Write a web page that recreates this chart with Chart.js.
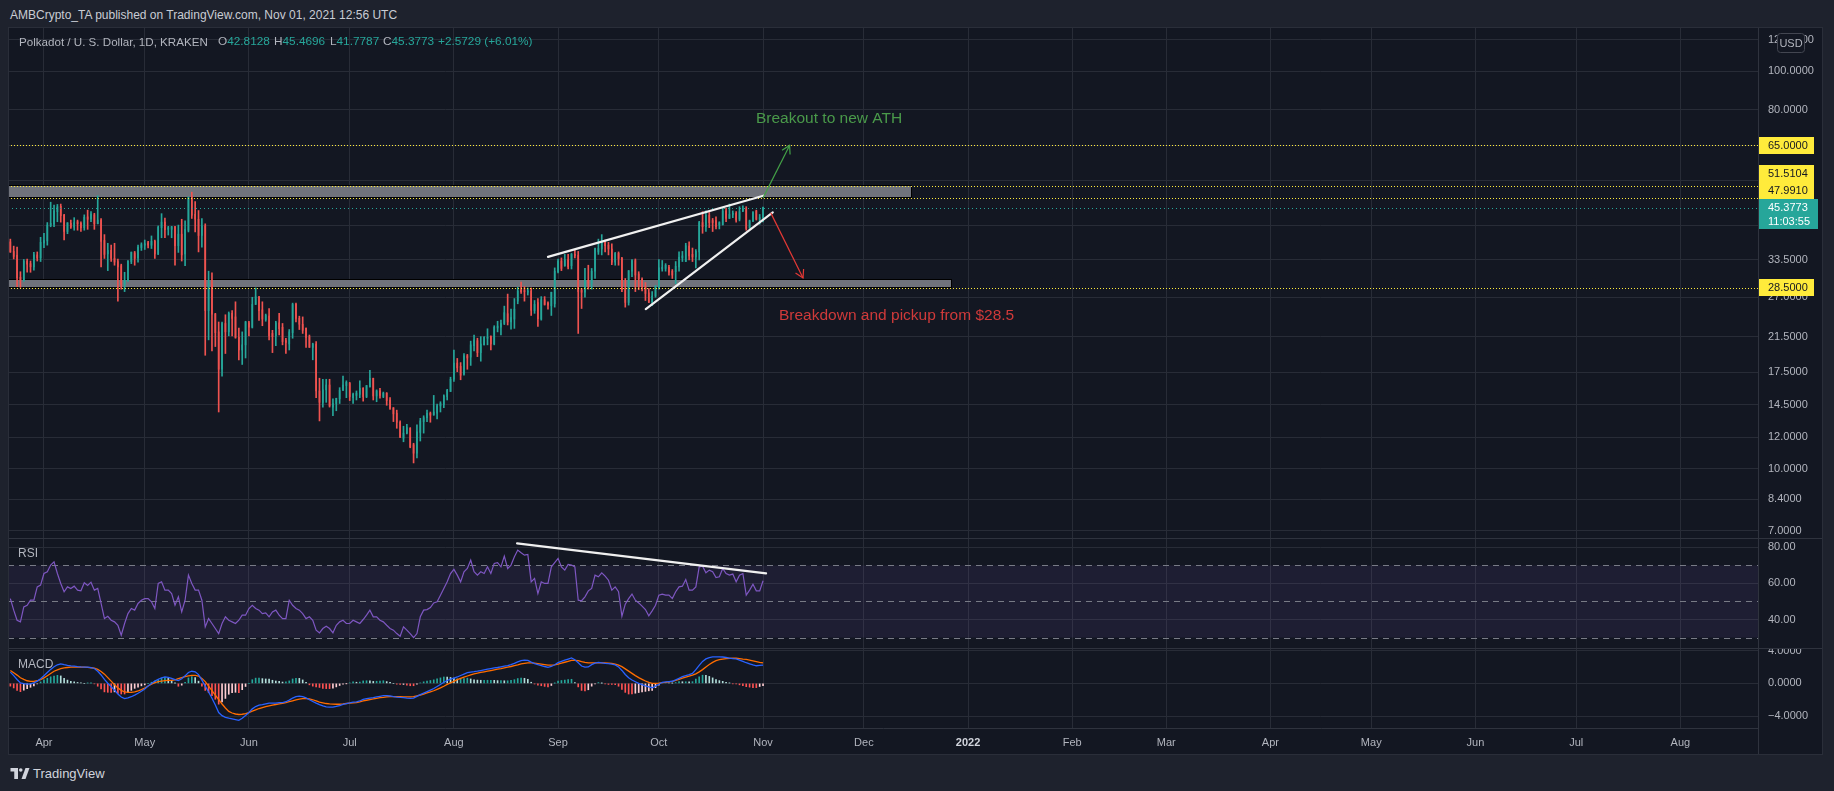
<!DOCTYPE html>
<html><head><meta charset="utf-8">
<script src="https://cdn.jsdelivr.net/npm/chart.js@4.4.1/dist/chart.umd.min.js"></script>
<style>
html,body{margin:0;padding:0;background:#1e222d;width:1834px;height:791px;overflow:hidden;font-family:'Liberation Sans',Arial,sans-serif;}
.abs{position:absolute;}
canvas{position:absolute;display:block;}
.t{position:absolute;white-space:nowrap;line-height:1;}
</style></head><body>
<div class="abs" style="left:8px;top:27px;width:1815px;height:728px;background:#131722;"></div>
<canvas id="cPrice" width="1815" height="511" style="left:8px;top:27px"></canvas>
<canvas id="cRsi" width="1815" height="110" style="left:8px;top:538px"></canvas>
<canvas id="cMacd" width="1815" height="107" style="left:8px;top:648px"></canvas>
<div class="abs" style="left:8px;top:538px;width:1815px;height:1px;background:#2f333e;"></div>
<div class="abs" style="left:8px;top:648px;width:1815px;height:1px;background:#2f333e;"></div>
<div class="abs" style="left:1758px;top:27px;width:1px;height:728px;background:#2f333e;"></div>
<div class="abs" style="left:8px;top:27px;width:1815px;height:728px;border:1px solid #2a2e39;box-sizing:border-box;"></div>

<div class="t" style="left:10px;top:9px;font-size:12px;color:#c9ccd4;">AMBCrypto_TA published on TradingView.com, Nov 01, 2021 12:56 UTC</div>
<div class="t" style="left:19px;top:36px;font-size:11.6px;color:#b2b5be;">Polkadot / U. S. Dollar, 1D, KRAKEN</div>
<div class="t" id="lgO" style="left:218px;top:36px;font-size:11.8px;"></div>
<div class="t" id="lgH" style="left:274px;top:36px;font-size:11.8px;"></div>
<div class="t" id="lgL" style="left:330px;top:36px;font-size:11.8px;"></div>
<div class="t" id="lgC" style="left:383px;top:36px;font-size:11.8px;"></div>
<div class="t" id="lgChg" style="left:438px;top:36px;font-size:11.8px;color:#26a69a;"></div>
<div class="t" style="left:18px;top:547px;font-size:12px;color:#b2b5be;">RSI</div>
<div class="t" style="left:18px;top:658px;font-size:12px;color:#b2b5be;">MACD</div>

<svg class="abs" style="left:10px;top:768px" width="20" height="11" viewBox="0 0 38 22">
 <path d="M0 0H15V22H7.5V7H0Z" fill="#d1d4dc"/>
 <circle cx="20.5" cy="4" r="3.6" fill="#d1d4dc"/>
 <path d="M22 22L30 0H38L30 22Z" fill="#d1d4dc"/>
</svg>
<div class="t" style="left:33px;top:767px;font-size:13px;color:#d1d4dc;">TradingView</div>

<script>
// ---------------- DATA ----------------
const firstDate = '2021-03-22';   // first daily candle
const opens = [
37.2,35.2,34.4,30.3,29.8,33.3,32.8,32.2,34.5,33.9,
37.0,37.4,40.9,41.2,44.3,45.7,43.4,39.5,41.4,40.5,
41.8,41.4,40.4,43.0,42.5,43.5,41.3,42.2,37.5,34.7,
35.4,33.8,33.2,32.4,29.1,29.8,33.2,34.9,33.9,36.0,
36.5,37.0,36.5,37.3,34.6,40.4,41.7,40.0,40.0,40.6,
36.4,38.9,34.7,39.8,48.2,43.6,42.4,38.6,40.8,25.0,
29.0,24.5,22.1,17.8,23.2,22.1,24.6,24.1,21.4,19.9,
20.5,23.3,22.7,25.9,27.1,25.1,23.7,24.2,21.9,21.6,
23.3,22.7,21.0,20.6,22.0,25.9,23.9,23.1,22.6,21.5,
20.2,20.6,15.7,14.7,15.8,16.25,14.3,14.6,15.0,15.75,
16.2,16.4,15.1,15.3,15.4,15.95,15.2,16.1,16.9,15.25,
15.7,15.2,15.5,14.9,14.25,13.8,13.1,11.95,12.3,12.65,
11.5,10.95,12.35,13.15,13.45,13.8,13.65,13.8,14.4,14.5,
15.2,15.65,16.8,18.45,18.1,17.3,19.25,19.1,20.4,21.0,
19.6,20.5,21.3,21.5,20.6,22.6,22.7,23.2,24.55,23.4,
23.8,26.4,28.2,28.0,27.8,28.0,25.0,26.2,23.8,26.6,
26.1,25.7,26.0,31.3,33.3,32.4,33.6,32.4,34.6,34.4,
28.1,27.8,29.8,29.3,31.4,35.1,35.7,37.4,36.5,35.7,
33.1,34.8,33.8,28.3,26.2,31.4,33.4,30.9,30.0,28.8,
27.7,26.3,27.2,28.4,31.8,31.9,32.1,31.4,31.3,32.2,
33.9,33.2,36.3,34.6,34.1,35.1,41.6,40.6,43.4,42.1,
42.1,41.0,41.1,44.5,42.6,43.6,43.9,42.4,44.5,45.0,
40.4,42.0,44.5,42.4,42.8128];
const highs = [
37.8,36.3,36.1,31.3,33.6,33.7,33.3,35.0,35.1,38.2,
39.1,41.6,46.8,46.0,46.2,46.3,43.6,41.6,42.2,42.8,
42.2,41.8,43.5,44.7,44.3,43.9,48.6,42.6,38.8,36.9,
36.5,36.9,33.7,32.7,31.2,33.4,35.1,35.2,36.5,37.0,
37.6,37.3,38.5,37.6,40.8,43.8,42.7,40.7,40.7,40.7,
41.0,42.4,42.0,48.2,49.6,47.0,44.6,42.6,41.3,31.4,
31.1,24.6,23.4,23.4,24.4,24.8,25.0,26.3,22.6,22.1,
23.5,23.5,27.0,28.5,27.1,26.3,24.5,25.3,22.3,23.5,
24.6,23.2,21.3,22.4,26.1,26.1,24.2,24.1,22.6,21.7,
20.7,20.9,16.9,16.8,16.8,16.8,15.0,15.05,16.0,17.1,
16.65,16.5,15.5,15.7,16.65,16.0,16.2,17.7,16.9,15.8,
15.95,15.6,15.55,15.1,14.25,14.05,13.2,12.8,12.95,12.7,
11.6,12.9,13.4,13.6,14.05,13.9,15.3,14.55,14.75,15.35,
15.85,17.0,19.9,18.95,18.5,19.5,19.4,20.95,21.7,21.3,
21.5,21.5,22.5,21.6,22.9,23.5,23.65,25.65,27.5,25.2,
26.8,28.6,29.5,28.7,28.5,28.5,26.5,26.8,27.1,27.1,
26.3,27.8,32.0,33.7,33.9,34.6,34.6,34.8,35.5,35.2,
28.4,31.9,32.5,31.9,35.9,37.8,38.8,37.6,37.1,36.8,
35.0,35.1,34.0,30.1,31.5,33.6,33.7,31.3,30.2,29.4,
28.4,27.9,28.9,33.6,33.4,32.8,32.5,31.7,33.2,35.1,
35.2,36.9,37.2,35.9,35.6,41.9,44.3,44.5,44.1,42.6,
43.0,41.8,45.2,45.2,46.3,44.5,44.3,45.6,45.8,45.6,
42.2,44.3,44.7,43.6,45.4696];
const lows = [
35.0,33.7,28.7,28.6,29.6,31.2,31.2,31.6,33.3,33.2,
36.0,36.5,40.6,40.6,41.8,41.7,37.6,39.0,40.2,39.8,
39.8,39.5,39.8,40.0,41.8,40.0,41.3,32.2,33.8,31.5,
33.2,32.5,26.4,28.3,27.9,29.6,32.8,32.5,33.1,35.4,
35.6,35.9,35.8,33.8,34.6,38.1,38.1,38.7,38.1,32.5,
35.0,33.3,32.4,39.4,42.6,39.4,35.1,36.1,19.3,21.1,
19.8,20.3,13.9,17.1,19.5,21.6,21.6,21.3,18.8,18.3,
19.0,21.6,22.6,25.9,23.6,22.9,23.5,21.1,19.6,20.4,
21.7,20.5,19.5,19.9,21.3,23.4,22.4,21.9,20.2,20.2,
18.8,15.1,13.2,14.3,14.7,14.3,13.6,14.0,14.6,15.75,
15.1,14.85,14.6,14.9,15.1,14.8,15.1,16.05,14.9,14.75,
15.05,15.1,14.45,14.1,13.15,12.65,12.0,11.7,12.25,11.3,
10.35,10.65,11.75,12.3,13.15,13.1,13.65,13.35,13.9,14.25,
14.9,15.65,16.6,17.55,16.75,17.2,17.8,18.2,19.8,19.15,
18.65,20.5,20.5,19.9,20.5,22.1,21.7,23.05,23.0,22.45,
22.55,26.0,27.6,26.4,27.35,24.3,24.6,22.8,23.65,25.8,
25.2,24.3,25.5,31.1,31.5,32.3,31.8,31.8,33.9,21.9,
25.3,27.0,28.3,28.3,30.1,34.6,34.5,35.1,34.5,32.6,
32.5,32.5,27.9,25.5,25.8,30.4,27.9,28.2,28.0,26.5,
26.2,25.7,27.0,28.3,31.4,31.4,30.7,30.1,29.2,31.4,
33.2,33.2,33.5,33.2,32.0,33.5,39.1,39.5,40.4,39.5,
40.1,40.1,41.0,41.8,42.6,42.8,41.7,42.0,44.3,39.8,
40.2,41.8,42.2,41.2,41.7787];
const closes = [
35.1,34.2,30.2,29.8,33.3,32.7,32.2,34.5,33.9,37.1,
37.5,41.0,41.4,44.5,45.6,43.3,39.5,41.5,40.5,41.6,
41.3,40.4,42.9,42.4,43.7,41.3,42.2,37.3,34.6,35.4,
33.8,33.1,32.2,29.1,29.8,33.3,35.0,33.8,36.1,36.6,
36.8,36.5,37.3,34.7,40.5,41.7,39.9,40.4,40.6,36.4,
38.9,34.5,40.0,48.2,43.4,42.4,38.6,40.8,25.0,29.2,
24.5,22.0,17.8,23.2,22.1,24.6,23.9,21.4,19.9,20.5,
23.4,22.7,25.9,27.1,25.0,23.8,24.3,21.6,21.5,23.3,
22.5,20.9,20.8,22.1,25.9,23.9,23.1,22.3,21.4,20.2,
20.6,15.7,14.7,15.8,16.25,14.4,14.6,15.05,15.75,16.25,
16.5,15.2,15.4,15.5,15.95,15.2,16.2,16.9,15.25,15.7,
15.3,15.5,14.85,14.2,13.75,13.1,12.0,12.3,12.7,11.35,
10.95,12.4,13.2,13.45,13.8,13.65,13.9,14.4,14.6,15.25,
15.75,16.8,18.45,17.95,17.2,19.25,19.0,20.5,21.1,19.6,
20.6,21.4,21.4,20.6,22.7,22.85,23.2,24.7,23.4,24.0,
25.2,28.0,27.9,27.9,28.0,25.05,25.9,23.85,26.6,25.9,
25.8,27.8,31.4,33.3,31.9,33.6,32.2,34.6,34.4,27.9,
27.8,29.8,29.3,31.4,35.8,35.8,37.4,36.4,35.7,33.1,
34.8,33.8,28.2,26.2,31.5,33.4,30.7,30.0,28.7,27.6,
26.2,27.2,28.7,32.0,32.1,32.5,31.2,30.7,32.3,34.0,
34.3,36.4,34.3,34.1,35.2,41.6,40.6,43.4,41.6,41.6,
40.6,41.6,44.5,42.6,43.6,43.9,42.2,44.3,45.0,40.2,
42.0,44.1,42.4,42.8044,45.3773];
const rsiValues = [
51.6,45.2,39.6,38.7,47.0,47.9,50.7,50.7,58.1,59.1,
65.5,66.5,70.2,72.0,65.5,60.0,55.4,58.1,57.2,58.5,
56.3,55.9,60.4,58.9,60.7,56.3,57.2,48.9,40.5,41.8,
39.6,38.7,36.8,31.3,37.8,43.3,46.1,45.2,48.9,50.7,
51.6,51.6,49.8,46.1,60.0,60.9,56.3,56.3,54.4,47.9,
52.6,44.2,50.7,64.6,60.0,56.3,56.3,50.7,35.9,40.5,
37.8,35.0,32.2,37.8,41.5,39.6,38.7,37.8,39.6,42.4,
42.4,46.1,47.9,46.1,45.2,43.3,43.7,41.5,44.2,45.2,
42.4,40.5,40.5,50.7,47.9,46.1,45.2,43.3,40.5,41.5,
39.6,34.1,32.6,35.0,36.3,35.0,32.6,36.8,38.7,39.6,
37.8,37.8,39.6,38.7,37.8,40.0,42.4,45.2,41.5,41.5,
39.6,38.7,36.8,35.0,34.1,32.2,30.7,35.9,34.1,32.2,
30.0,32.2,41.5,45.2,45.5,46.6,49.2,49.8,53.5,57.2,
60.9,65.5,67.8,64.6,60.9,66.5,68.3,72.9,66.5,64.6,
66.5,65.5,69.2,65.5,71.1,71.5,69.2,75.2,68.3,70.2,
74.8,78.5,77.0,75.7,76.1,60.9,62.8,54.4,60.9,60.0,
60.0,69.2,71.5,73.9,69.2,67.4,70.5,70.2,69.2,50.7,
50.4,52.6,55.9,57.2,64.6,63.7,65.9,64.1,61.8,56.3,
58.1,55.4,41.8,48.5,51.6,54.1,50.7,49.2,47.4,45.5,
42.0,44.8,47.9,53.5,54.1,53.5,53.5,51.6,55.4,58.1,
58.5,62.2,56.3,56.3,58.1,69.2,69.6,65.9,67.4,66.5,
63.3,63.7,68.3,65.5,64.6,65.2,60.9,64.6,65.5,53.5,
56.3,59.6,55.9,55.9,61.5];
const macdLine = [
1.37,0.95,0.48,0.06,-0.04,-0.08,-0.06,0.05,0.28,0.57,
0.93,1.33,1.71,2.04,2.27,2.38,2.28,2.19,2.13,2.10,
2.05,2.01,1.98,1.98,1.93,1.82,1.48,1.03,0.48,0.02,
-0.41,-0.81,-1.31,-1.66,-1.86,-1.77,-1.63,-1.43,-1.21,-0.96,
-0.68,-0.32,-0.01,0.28,0.50,0.68,0.80,0.74,0.61,0.46,
0.35,0.57,0.92,1.33,1.48,1.42,1.07,0.39,-0.33,-1.05,
-1.81,-2.64,-3.56,-3.94,-4.16,-4.25,-4.33,-4.42,-4.52,-4.25,
-3.93,-3.56,-3.11,-2.83,-2.67,-2.59,-2.50,-2.42,-2.42,-2.40,
-2.34,-2.34,-2.24,-2.05,-1.79,-1.63,-1.55,-1.61,-1.77,-2.00,
-2.21,-2.42,-2.60,-2.76,-2.86,-2.91,-2.91,-2.82,-2.71,-2.57,
-2.47,-2.38,-2.28,-2.25,-2.15,-1.96,-1.86,-1.79,-1.75,-1.66,
-1.58,-1.50,-1.50,-1.54,-1.62,-1.68,-1.72,-1.74,-1.80,-1.82,
-1.80,-1.58,-1.38,-1.19,-1.00,-0.82,-0.63,-0.39,-0.13,0.14,
0.35,0.51,0.65,0.78,0.96,1.14,1.30,1.38,1.43,1.49,
1.57,1.65,1.73,1.81,1.88,1.94,2.02,2.10,2.18,2.29,
2.44,2.63,2.79,2.84,2.81,2.59,2.42,2.29,2.18,2.06,
1.96,2.06,2.28,2.53,2.69,2.83,2.97,3.11,2.88,2.52,
2.12,1.98,2.01,2.29,2.47,2.56,2.51,2.45,2.40,2.35,
2.25,2.01,1.58,1.08,0.69,0.41,0.20,0.00,-0.16,-0.32,
-0.44,-0.53,-0.33,-0.11,0.13,0.18,0.22,0.26,0.42,0.62,
0.83,0.96,1.06,1.21,1.67,2.20,2.68,2.99,3.15,3.23,
3.23,3.23,3.22,3.16,3.09,3.02,2.99,2.85,2.68,2.52,
2.38,2.25,2.15,2.19,2.22];
const signalLine = [
1.58,1.30,1.01,0.69,0.48,0.32,0.24,0.24,0.32,0.46,
0.67,0.94,1.21,1.48,1.66,1.81,1.89,1.94,1.98,1.98,
1.98,1.98,1.98,1.96,1.91,1.86,1.70,1.46,1.13,0.70,
0.27,-0.16,-0.55,-0.85,-1.05,-1.11,-1.10,-1.05,-0.93,-0.77,
-0.57,-0.32,-0.10,0.10,0.21,0.28,0.33,0.36,0.38,0.44,
0.57,0.71,0.83,0.91,0.97,0.98,0.90,0.61,0.21,-0.34,
-0.88,-1.43,-1.97,-2.52,-3.01,-3.42,-3.62,-3.74,-3.80,-3.77,
-3.69,-3.56,-3.39,-3.23,-3.07,-2.95,-2.84,-2.74,-2.66,-2.58,
-2.50,-2.44,-2.35,-2.24,-2.13,-2.02,-1.93,-1.87,-1.86,-1.89,
-2.00,-2.15,-2.29,-2.37,-2.46,-2.51,-2.54,-2.55,-2.55,-2.51,
-2.46,-2.41,-2.39,-2.34,-2.25,-2.15,-2.06,-1.98,-1.90,-1.82,
-1.75,-1.70,-1.64,-1.62,-1.62,-1.62,-1.63,-1.66,-1.66,-1.64,
-1.62,-1.52,-1.42,-1.31,-1.17,-1.04,-0.90,-0.73,-0.55,-0.35,
-0.13,0.06,0.25,0.45,0.61,0.77,0.90,1.04,1.16,1.24,
1.33,1.41,1.49,1.57,1.65,1.73,1.81,1.90,1.98,2.06,
2.16,2.26,2.38,2.45,2.50,2.50,2.47,2.42,2.36,2.29,
2.22,2.22,2.27,2.36,2.47,2.58,2.69,2.80,2.82,2.79,
2.66,2.56,2.50,2.50,2.50,2.50,2.50,2.50,2.48,2.43,
2.35,2.23,2.04,1.77,1.50,1.22,0.95,0.70,0.49,0.29,
0.13,0.00,0.00,0.03,0.08,0.11,0.17,0.25,0.36,0.49,
0.63,0.76,0.88,1.00,1.16,1.40,1.68,2.01,2.30,2.56,
2.78,2.89,2.97,3.02,3.05,3.07,3.07,3.03,2.97,2.92,
2.84,2.76,2.67,2.57,2.50];
const histValues = [
-0.34,-0.56,-0.85,-1.01,-0.83,-0.64,-0.48,-0.30,-0.06,0.18,
0.42,0.62,0.80,0.90,0.98,0.91,0.62,0.40,0.24,0.19,
0.11,0.05,0.00,0.03,0.03,-0.06,-0.35,-0.69,-1.04,-1.09,
-1.09,-1.04,-1.22,-1.30,-1.30,-1.06,-0.85,-0.61,-0.45,-0.30,
-0.18,0.00,0.14,0.29,0.46,0.64,0.75,0.61,0.37,0.03,
-0.35,-0.22,0.14,0.67,0.82,0.70,0.27,-0.35,-0.86,-1.14,
-1.49,-1.94,-2.54,-2.27,-1.84,-1.33,-1.14,-1.09,-1.15,-0.77,
-0.38,0.00,0.45,0.64,0.64,0.58,0.54,0.51,0.38,0.29,
0.26,0.16,0.18,0.30,0.54,0.62,0.61,0.42,0.14,-0.18,
-0.34,-0.43,-0.50,-0.62,-0.64,-0.64,-0.59,-0.43,-0.26,-0.10,
-0.02,0.05,0.18,0.14,0.16,0.30,0.32,0.30,0.24,0.26,
0.27,0.32,0.22,0.13,0.00,-0.10,-0.14,-0.13,-0.22,-0.29,
-0.29,-0.10,0.06,0.19,0.27,0.35,0.43,0.54,0.67,0.78,
0.77,0.72,0.64,0.53,0.56,0.59,0.64,0.54,0.43,0.40,
0.38,0.38,0.38,0.38,0.37,0.34,0.34,0.32,0.32,0.37,
0.45,0.59,0.66,0.62,0.50,0.14,-0.08,-0.21,-0.29,-0.37,
-0.42,-0.26,0.02,0.27,0.35,0.40,0.45,0.50,0.10,-0.43,
-0.86,-0.93,-0.78,-0.34,-0.05,0.10,0.02,-0.08,-0.13,-0.13,
-0.16,-0.35,-0.74,-1.10,-1.30,-1.30,-1.20,-1.12,-1.04,-0.98,
-0.91,-0.85,-0.53,-0.22,0.08,0.11,0.08,0.02,0.10,0.21,
0.20,0.20,0.18,0.21,0.51,0.80,1.00,0.98,0.85,0.67,
0.45,0.34,0.25,0.14,0.04,-0.05,-0.08,-0.18,-0.29,-0.40,
-0.46,-0.51,-0.52,-0.38,-0.28];

// axis ticks
const monthLabels = [['Apr','2021-04-01'],['May','2021-05-01'],['Jun','2021-06-01'],['Jul','2021-07-01'],['Aug','2021-08-01'],['Sep','2021-09-01'],['Oct','2021-10-01'],['Nov','2021-11-01'],['Dec','2021-12-01'],['2022','2022-01-01'],['Feb','2022-02-01'],['Mar','2022-03-01'],['Apr','2022-04-01'],['May','2022-05-01'],['Jun','2022-06-01'],['Jul','2022-07-01'],['Aug','2022-08-01']];
const priceTicks = [7,8.4,10,12,14.5,17.5,21.5,27,33.5,41,53,65,80,100,120];
const coveredPriceTicks = [41,53,65];
const rsiTicks = [40,60,80];
const macdTicks = [-4,0,4];

// drawings (x in days after 2021-04-01, y in price / RSI units)
const levelLines = [65, 51.5104, 47.991, 28.5];
const zones = [{end:258, top:51.5104, bottom:47.991},{end:270, top:29.8, bottom:28.5}];
const wedgeUpper = [[150,34.1],[214.1,48.6]];
const wedgeLower = [[179.1,25.2],[216.9,44.1]];
const arrowDown = [[216.3,44.0],[225.9,30.2]];
const arrowUp = [[214,47.99],[221.9,65]];
const textUp = {x:211.9, y:75.7, text:'Breakout to new ATH'};
const textDown = {x:218.75, y:24.3, text:'Breakdown and pickup from $28.5'};
const rsiTrend = [[140.8,82.2],[214.9,65.6]];
const rsiBands = [70,50,30];
const lastTime = '11:03:55';

// ---------------- SETUP ----------------
const N = opens.length;
[highs,lows,closes,rsiValues,macdLine,signalLine,histValues].forEach((a,k)=>{ if(a.length!==N) throw new Error('length mismatch '+k+': '+a.length+' vs '+N); });
const BASE = Date.UTC(2021,3,1);
const dayOf = s => { const [y,m,d] = s.split('-').map(Number); return (Date.UTC(y,m-1,d)-BASE)/86400000; };
const d0 = dayOf(firstDate);
const days = opens.map((_,i)=>d0+i);
const monthDays = monthLabels.map(m=>dayOf(m[1]));
const monthName = {}; monthLabels.forEach((m,i)=>monthName[monthDays[i]]=m[0]);
const XMIN = -10.7, XMAX = 510.1;
const UP='#26a69a', DN='#ef5350', GRID='#282c37', TXT='#b2b5be', YEL='#ffeb3b';
const FONT = "'Liberation Sans', Arial, sans-serif";
Chart.defaults.font.family = FONT;
Chart.defaults.font.size = 11;
Chart.defaults.color = TXT;

const last = N-1;
const chg = closes[last]-closes[last-1];
const pct = chg/closes[last-1]*100;
const lg = (id,l,v)=>{document.getElementById(id).innerHTML='<span style="color:#b2b5be">'+l+'</span><span style="color:#26a69a">'+v.toFixed(4)+'</span>';};
lg('lgO','O',opens[last]); lg('lgH','H',highs[last]); lg('lgL','L',lows[last]); lg('lgC','C',closes[last]);
document.getElementById('lgChg').textContent = (chg>=0?'+':'')+chg.toFixed(4)+' ('+(pct>=0?'+':'')+pct.toFixed(2)+'%)';

const xScaleBase = (showLabels)=>({
  type:'linear', min:XMIN, max:XMAX, offset:false,
  grid:{color:GRID, drawTicks:false, offset:false},
  border:{display:showLabels, color:'#2f333e'},
  afterBuildTicks:s=>{ s.ticks = monthDays.map(v=>({value:v})); },
  ticks:{display:showLabels, autoSkip:false, maxRotation:0, padding:8, color:(c)=> (c.tick && monthName[c.tick.value]==='2022')?'#d1d4dc':TXT,
    font:(c)=>({family:FONT, size:11, weight:(c.tick && monthName[c.tick.value]==='2022')?'bold':'normal'}),
    callback:v=>monthName[v]||''},
  afterFit:s=>{ s.height = showLabels?27:0; s.paddingLeft=0; s.paddingRight=0; s.paddingTop=0; s.paddingBottom=0; }
});
const yRight = (extra)=>Object.assign({
  position:'right',
  grid:{color:GRID, drawTicks:false},
  border:{display:false},
  afterFit:s=>{ s.width = 65; s.paddingTop=0; s.paddingBottom=0; s.paddingLeft=0; s.paddingRight=0; }
}, extra);

const common = {responsive:false, animation:false, events:[], layout:{padding:0}, plugins:{legend:{display:false}, tooltip:{enabled:false}}};

function arrowPath(ctx,x0,y0,x1,y1,color){
  ctx.strokeStyle=color; ctx.lineWidth=1.2; ctx.setLineDash([]);
  ctx.beginPath(); ctx.moveTo(x0,y0); ctx.lineTo(x1,y1); ctx.stroke();
  const a=Math.atan2(y1-y0,x1-x0), L=9;
  ctx.beginPath();
  ctx.moveTo(x1-L*Math.cos(a-Math.PI/6), y1-L*Math.sin(a-Math.PI/6));
  ctx.lineTo(x1,y1);
  ctx.lineTo(x1-L*Math.cos(a+Math.PI/6), y1-L*Math.sin(a+Math.PI/6));
  ctx.stroke();
}
function tag(ctx,x,yTop,w,h,bg,fg,lines){
  ctx.fillStyle=bg; ctx.fillRect(x,yTop,w,h);
  ctx.fillStyle=fg; ctx.font='11px '+FONT; ctx.textBaseline='middle'; ctx.textAlign='left';
  lines.forEach((t,i)=>ctx.fillText(t, x+10, yTop+8.5+i*14));
}
function hLine(ctx, ca, py, color, dash){
  ctx.strokeStyle=color; ctx.lineWidth=1; ctx.setLineDash(dash);
  ctx.beginPath(); ctx.moveTo(Math.round(ca.left), py); ctx.lineTo(ca.right, py); ctx.stroke();
}

const priceAnn = {
  id:'priceAnn',
  beforeDatasetsDraw(chart){
    const {ctx, chartArea:ca, scales:{x,y}} = chart;
    ctx.save();
    ctx.beginPath(); ctx.rect(ca.left,ca.top,ca.width,ca.height); ctx.clip();
    zones.forEach(z=>{
      const x0=ca.left-3, x1=Math.round(x.getPixelForValue(z.end))+0.5;
      const y0=Math.round(y.getPixelForValue(z.top))-0.5, y1=Math.round(y.getPixelForValue(z.bottom))-0.5;
      ctx.fillStyle='rgb(112,115,124)';
      ctx.fillRect(x0,y0,x1-x0,y1-y0);
      ctx.strokeStyle='#000'; ctx.lineWidth=1;
      ctx.strokeRect(x0,y0,x1-x0,y1-y0);
    });
    ctx.restore();
  },
  afterDatasetsDraw(chart){
    const {ctx, chartArea:ca, scales:{x,y}} = chart;
    const P = p=>[x.getPixelForValue(p[0]), y.getPixelForValue(p[1])];
    ctx.save();
    ctx.beginPath(); ctx.rect(ca.left,ca.top,ca.width,ca.height); ctx.clip();
    levelLines.forEach(v=>hLine(ctx, ca, Math.round(y.getPixelForValue(v))+0.5, YEL, [1,2]));
    hLine(ctx, ca, Math.round(y.getPixelForValue(closes[last]))+0.5, UP, [1,3]);
    ctx.setLineDash([]);
    ctx.strokeStyle='#f0f0f0'; ctx.lineWidth=2.2; ctx.lineCap='round';
    [wedgeUpper,wedgeLower].forEach(l=>{ const a=P(l[0]), b=P(l[1]); ctx.beginPath(); ctx.moveTo(a[0],a[1]); ctx.lineTo(b[0],b[1]); ctx.stroke(); });
    ctx.lineCap='butt';
    { const a=P(arrowDown[0]), b=P(arrowDown[1]); arrowPath(ctx,a[0],a[1],b[0],b[1],'#e53935'); }
    { const a=P(arrowUp[0]), b=P(arrowUp[1]); arrowPath(ctx,a[0],a[1],b[0],b[1],'#43a047'); }
    ctx.font='15.5px '+FONT; ctx.textBaseline='middle'; ctx.textAlign='left';
    ctx.fillStyle='#4a9a4a'; { const p=P([textUp.x,textUp.y]); ctx.fillText(textUp.text,p[0],p[1]); }
    ctx.fillStyle='#d03a3a'; { const p=P([textDown.x,textDown.y]); ctx.fillText(textDown.text,p[0],p[1]); }
    ctx.restore();
  },
  afterDraw(chart){
    const {ctx, chartArea:ca, scales:{y}} = chart;
    const ax = ca.right;
    ctx.save();
    let cy = y.getPixelForValue(levelLines[0]);
    tag(ctx, ax, Math.round(cy-8.5), 56, 17, YEL, '#131722', [levelLines[0].toFixed(4)]);
    cy = y.getPixelForValue(closes[last]);
    const tTop = Math.round(cy-8.5);
    tag(ctx, ax, tTop, 60, 30, UP, '#ffffff', [closes[last].toFixed(4), lastTime]);
    tag(ctx, ax, tTop-17, 56, 17, YEL, '#131722', [levelLines[2].toFixed(4)]);
    tag(ctx, ax, tTop-34, 56, 17, YEL, '#131722', [levelLines[1].toFixed(4)]);
    cy = y.getPixelForValue(levelLines[3]);
    tag(ctx, ax, Math.round(cy-8.5), 56, 17, YEL, '#131722', [levelLines[3].toFixed(4)]);
    const bx=ax+19.5, by=6.5, bw=27, bh=19, r=3;
    ctx.beginPath();
    ctx.moveTo(bx+r,by); ctx.lineTo(bx+bw-r,by); ctx.quadraticCurveTo(bx+bw,by,bx+bw,by+r);
    ctx.lineTo(bx+bw,by+bh-r); ctx.quadraticCurveTo(bx+bw,by+bh,bx+bw-r,by+bh);
    ctx.lineTo(bx+r,by+bh); ctx.quadraticCurveTo(bx,by+bh,bx,by+bh-r);
    ctx.lineTo(bx,by+r); ctx.quadraticCurveTo(bx,by,bx+r,by); ctx.closePath();
    ctx.fillStyle='#131722'; ctx.fill(); ctx.strokeStyle='#434651'; ctx.lineWidth=1; ctx.stroke();
    ctx.fillStyle=TXT; ctx.font='11px '+FONT; ctx.textAlign='center'; ctx.textBaseline='middle';
    ctx.fillText('USD', bx+bw/2, by+bh/2+0.5);
    ctx.restore();
  }
};

const candleColors = opens.map((o,i)=> closes[i]>=o?UP:DN);
new Chart(document.getElementById('cPrice'), {
  type:'bar',
  data:{datasets:[
    {label:'body', data:days.map((d,i)=>({x:d, y:[Math.min(opens[i],closes[i]), Math.max(opens[i],closes[i])]})),
     backgroundColor:candleColors, borderWidth:0, grouped:false, barThickness:1, maxBarThickness:2.5, minBarLength:1, order:1},
    {label:'wick', data:days.map((d,i)=>({x:d, y:[lows[i], highs[i]]})),
     backgroundColor:candleColors, borderWidth:0, grouped:false, barThickness:1, maxBarThickness:1, order:2}
  ]},
  options:Object.assign({}, common, {
    scales:{
      x:xScaleBase(false),
      y:yRight({type:'logarithmic', min:6.704, max:129.0,
        afterBuildTicks:s=>{ s.ticks = priceTicks.map(v=>({value:v})); },
        ticks:{color:TXT, padding:10, autoSkip:false, font:{size:11}, callback:v=> coveredPriceTicks.includes(v)?'':Number(v).toFixed(4)}})
    }
  }),
  plugins:[priceAnn]
});

const rsiAnn = {
  id:'rsiAnn',
  beforeDatasetsDraw(chart){
    const {ctx, chartArea:ca, scales:{y}} = chart;
    const yTop=y.getPixelForValue(rsiBands[0]), yBot=y.getPixelForValue(rsiBands[2]);
    ctx.save();
    ctx.fillStyle='rgba(126,87,194,0.11)';
    ctx.fillRect(ca.left,yTop,ca.width,yBot-yTop);
    rsiBands.forEach(v=>hLine(ctx, ca, Math.round(y.getPixelForValue(v))+0.5, '#787b86', [6,5]));
    ctx.restore();
  },
  afterDatasetsDraw(chart){
    const {ctx, chartArea:ca, scales:{x,y}} = chart;
    ctx.save();
    ctx.beginPath(); ctx.rect(ca.left,ca.top,ca.width,ca.height); ctx.clip();
    ctx.strokeStyle='#f0f0f0'; ctx.lineWidth=2.2; ctx.lineCap='round';
    ctx.beginPath();
    ctx.moveTo(x.getPixelForValue(rsiTrend[0][0]), y.getPixelForValue(rsiTrend[0][1]));
    ctx.lineTo(x.getPixelForValue(rsiTrend[1][0]), y.getPixelForValue(rsiTrend[1][1]));
    ctx.stroke();
    ctx.restore();
  }
};
new Chart(document.getElementById('cRsi'), {
  type:'line',
  data:{datasets:[{data:days.map((d,i)=>({x:d,y:rsiValues[i]})), borderColor:'#7e57c2', borderWidth:1.2, pointRadius:0, tension:0, fill:false}]},
  options:Object.assign({}, common, {
    scales:{
      x:xScaleBase(false),
      y:yRight({type:'linear', min:24.2, max:85.2,
        afterBuildTicks:s=>{ s.ticks = rsiTicks.map(v=>({value:v})); },
        ticks:{color:TXT, padding:10, autoSkip:false, font:{size:11}, callback:v=>Number(v).toFixed(2)}})
    }
  }),
  plugins:[rsiAnn]
});

const histColors = histValues.map((h,i)=>{
  const p = i>0?histValues[i-1]:h;
  if (h>=0) return h>=p ? '#26a69a' : '#b2dfdb';
  return h<=p ? '#ff5252' : '#ffcdd2';
});
new Chart(document.getElementById('cMacd'), {
  type:'bar',
  data:{datasets:[
    {type:'line', data:days.map((d,i)=>({x:d,y:macdLine[i]})), borderColor:'#2962ff', borderWidth:1.3, pointRadius:0, tension:0, order:0},
    {type:'line', data:days.map((d,i)=>({x:d,y:signalLine[i]})), borderColor:'#ff6d00', borderWidth:1.3, pointRadius:0, tension:0, order:0},
    {type:'bar', data:days.map((d,i)=>({x:d,y:histValues[i]})), backgroundColor:histColors, borderWidth:0, grouped:false, barThickness:1, maxBarThickness:2.2, order:1}
  ]},
  options:Object.assign({}, common, {
    scales:{
      x:xScaleBase(true),
      y:yRight({type:'linear', min:-5.45, max:4.32,
        afterBuildTicks:s=>{ s.ticks = macdTicks.map(v=>({value:v})); },
        ticks:{color:TXT, padding:10, autoSkip:false, font:{size:11}, callback:v=>(v<0?'\u2212':'')+Math.abs(Number(v)).toFixed(4)}})
    }
  })
});
</script>
</body></html>
